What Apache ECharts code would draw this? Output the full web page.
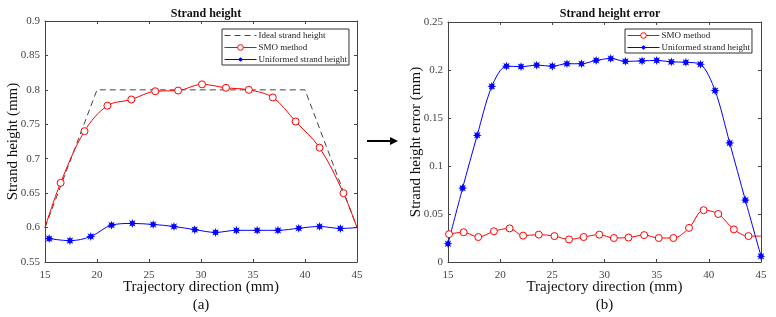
<!DOCTYPE html>
<html>
<head>
<meta charset="utf-8">
<script src="https://cdn.jsdelivr.net/npm/echarts@6/dist/echarts.min.js"></script>
<style>
  html, body { margin: 0; padding: 0; background: #fff; }
  #main { width: 776px; height: 317px; }
</style>
</head>
<body>
<div id="main"></div>
<script>
// 数据 (a) Strand height
var idealX = [15, 20, 40, 45];
var idealY = [0.6, 0.8, 0.8, 0.6];
var smoAX = [15, 16.5, 18.8, 21.0, 23.3, 25.6, 27.8, 30.1, 32.4, 34.6, 36.9, 39.1, 41.4, 43.7, 45];
var smoAY = [0.6, 0.665, 0.740, 0.777, 0.786, 0.798, 0.799, 0.808, 0.803, 0.800, 0.789, 0.754, 0.716, 0.650, 0.6];
var uniAX = [15.4, 17.4, 19.4, 21.4, 23.4, 25.4, 27.4, 29.4, 31.4, 33.4, 35.4, 37.4, 39.4, 41.4, 43.4, 45];
var uniAY = [0.584, 0.581, 0.587, 0.6035, 0.606, 0.6045, 0.6016, 0.597, 0.593, 0.596, 0.596, 0.596, 0.599, 0.6016, 0.5987, 0.6];

// 数据 (b) Strand height error
var smoBX = [15.1, 16.5, 17.9, 19.4, 20.9, 22.2, 23.7, 25.2, 26.6, 28.0, 29.5, 30.9, 32.3, 33.8, 35.2, 36.6, 38.1, 39.5, 40.9, 42.4, 43.8, 45];
var smoBY = [0.029, 0.031, 0.026, 0.032, 0.035, 0.0275, 0.0285, 0.027, 0.0235, 0.026, 0.0285, 0.025, 0.0255, 0.028, 0.025, 0.025, 0.0355, 0.054, 0.050, 0.034, 0.027, 0.027];
var uniBX = [15, 16.4, 17.8, 19.2, 20.6, 22.0, 23.5, 25.0, 26.4, 27.8, 29.2, 30.6, 32.0, 33.6, 35.0, 36.4, 37.8, 39.2, 40.6, 42.0, 43.5, 45];
var uniBY = [0.019, 0.077, 0.132, 0.183, 0.204, 0.2035, 0.205, 0.204, 0.2065, 0.2065, 0.210, 0.212, 0.209, 0.2095, 0.210, 0.2085, 0.208, 0.206, 0.1785, 0.124, 0.0645, 0.006];

var xTicks = { min: 15, max: 45, interval: 5 };
var yTicksA = { min: 0.55, max: 0.9, interval: 0.05 };
var yTicksB = { min: 0, max: 0.25, interval: 0.05 };

var FONT = 'Liberation Serif';

// 星号标记
var starPath = (function () {
    var pts = [];
    for (var i = 0; i < 16; i++) {
        var r = i % 2 === 0 ? 10 : 5;
        var a = Math.PI / 2 + i * Math.PI / 8;
        pts.push((10 + r * Math.cos(a)).toFixed(2) + ' ' + (10 - r * Math.sin(a)).toFixed(2));
    }
    return 'path://M' + pts.join(' L') + ' Z';
})();

function pairs(xs, ys, noMark) {
    return xs.map(function (x, i) {
        var item = { value: [x, ys[i]] };
        if (noMark && noMark.indexOf(i) >= 0) item.symbol = 'none';
        return item;
    });
}

function mainX(grid, name) {
    return {
        type: 'value', gridIndex: grid, min: xTicks.min, max: xTicks.max, interval: xTicks.interval,
        position: 'bottom',
        name: name, nameLocation: 'middle', nameGap: 16, nameMoveOverlap: false,
        nameTextStyle: { fontFamily: FONT, fontSize: 15, color: '#111', lineHeight: 18 },
        axisLine: { lineStyle: { color: '#444', width: 1 } },
        axisTick: { inside: true, length: 3, lineStyle: { color: '#444' } },
        axisLabel: { fontFamily: FONT, fontSize: 11, color: '#444', margin: 8 },
        splitLine: { show: false }
    };
}
function boxX(grid) {
    return {
        type: 'value', gridIndex: grid, min: xTicks.min, max: xTicks.max, interval: xTicks.interval,
        position: 'top',
        axisLine: { onZero: false, lineStyle: { color: '#444', width: 1 } },
        axisTick: { inside: true, length: 3, lineStyle: { color: '#444' } },
        axisLabel: { show: false }, splitLine: { show: false }
    };
}
function mainY(grid, t, name, gap) {
    return {
        type: 'value', gridIndex: grid, min: t.min, max: t.max, interval: t.interval,
        position: 'left',
        name: name, nameLocation: 'middle', nameGap: gap, nameMoveOverlap: false,
        nameTextStyle: { fontFamily: FONT, fontSize: 15, color: '#111' },
        axisLine: { show: true, lineStyle: { color: '#444', width: 1 } },
        axisTick: { show: true, inside: true, length: 3, lineStyle: { color: '#444' } },
        axisLabel: { fontFamily: FONT, fontSize: 11, color: '#444', margin: 5 },
        splitLine: { show: false }
    };
}
function boxY(grid, t) {
    return {
        type: 'value', gridIndex: grid, min: t.min, max: t.max, interval: t.interval,
        position: 'right',
        axisLine: { show: true, onZero: false, lineStyle: { color: '#444', width: 1 } },
        axisTick: { show: true, inside: true, length: 3, lineStyle: { color: '#444' } },
        axisLabel: { show: false }, splitLine: { show: false }
    };
}

var redLine = { color: '#ff0000', width: 1 };
var blueLine = { color: '#0000ff', width: 1 };
var circleStyle = { color: '#fff', borderColor: '#ff0000', borderWidth: 1 };

function legendBox(names, left) {
    return {
        data: names, left: left, top: 29, orient: 'vertical', align: 'left',
        itemWidth: 32, itemHeight: 7, itemGap: 3,
        padding: [2, 2, 1, 2],
        borderColor: '#333', borderWidth: 1, backgroundColor: '#fff', borderRadius: 0,
        lineStyle: { width: 1 },
        itemStyle: { borderWidth: 1 },
        textStyle: { fontFamily: FONT, fontSize: 9, color: '#222', padding: [0, 0, 0, -3] }
    };
}

var myChart = echarts.init(document.getElementById('main'), null, { renderer: 'canvas' });

var option = {
    backgroundColor: '#fff',
    animation: false,
    title: [
        { text: 'Strand height', left: 201, top: 3, textAlign: 'center',
          textStyle: { fontFamily: FONT, fontSize: 12, fontWeight: 'bold', color: '#111' } },
        { text: 'Strand height error', left: 605, top: 3, textAlign: 'center',
          textStyle: { fontFamily: FONT, fontSize: 12, fontWeight: 'bold', color: '#111' } }
    ],
    legend: [
        legendBox([
            { name: 'Ideal strand height', itemStyle: { color: 'rgba(0,0,0,0)', borderColor: 'rgba(0,0,0,0)' } },
            'SMO method', 'Uniformed strand height'
        ], 222),
        legendBox(['SMO method', 'Uniformed strand height'], 625)
    ],
    grid: [
        { left: 45, right: 419, top: 21, bottom: 55, outerBoundsMode: 'none', containLabel: false },
        { left: 448, right: 15, top: 22, bottom: 55, outerBoundsMode: 'none', containLabel: false }
    ],
    xAxis: [
        mainX(0, 'Trajectory direction (mm)\n(a)'),
        boxX(0),
        mainX(1, 'Trajectory direction (mm)\n(b)'),
        boxX(1)
    ],
    yAxis: [
        mainY(0, yTicksA, 'Strand height (mm)', 24),
        boxY(0, yTicksA),
        mainY(1, yTicksB, 'Strand height error (mm)', 24),
        boxY(1, yTicksB)
    ],
    series: [
        {
            name: 'Ideal strand height', type: 'line', xAxisIndex: 0, yAxisIndex: 0,
            data: pairs(idealX, idealY), symbol: 'none',
            lineStyle: { color: '#444', width: 1, type: [6, 4] },
            itemStyle: { color: '#444' }, z: 2
        },
        {
            name: 'SMO method', type: 'line', xAxisIndex: 0, yAxisIndex: 0,
            data: pairs(smoAX, smoAY, [0, smoAX.length - 1]), smooth: 0.35,
            symbol: 'circle', symbolSize: 7, showAllSymbol: true,
            lineStyle: redLine, itemStyle: circleStyle, z: 3
        },
        {
            name: 'Uniformed strand height', type: 'line', xAxisIndex: 0, yAxisIndex: 0,
            data: pairs(uniAX, uniAY, [uniAX.length - 1]), smooth: 0.35,
            symbol: starPath, symbolSize: 9, showAllSymbol: true,
            lineStyle: blueLine, itemStyle: { color: '#0000ff' }, z: 3
        },
        {
            name: 'SMO method', type: 'line', xAxisIndex: 2, yAxisIndex: 2,
            data: pairs(smoBX, smoBY, [smoBX.length - 1]), smooth: 0.35,
            symbol: 'circle', symbolSize: 7, showAllSymbol: true,
            lineStyle: redLine, itemStyle: circleStyle, z: 3
        },
        {
            name: 'Uniformed strand height', type: 'line', xAxisIndex: 2, yAxisIndex: 2,
            data: pairs(uniBX, uniBY), smooth: 0.3,
            symbol: starPath, symbolSize: 9, showAllSymbol: true,
            lineStyle: blueLine, itemStyle: { color: '#0000ff' }, z: 3
        }
    ],
    graphic: [
        { type: 'line', shape: { x1: 367, y1: 141, x2: 392, y2: 141 },
          style: { stroke: '#000', lineWidth: 2 } },
        { type: 'polygon', shape: { points: [[398, 141], [390, 137], [390, 145]] },
          style: { fill: '#000' } }
    ]
};

myChart.setOption(option);
</script>
</body>
</html>
